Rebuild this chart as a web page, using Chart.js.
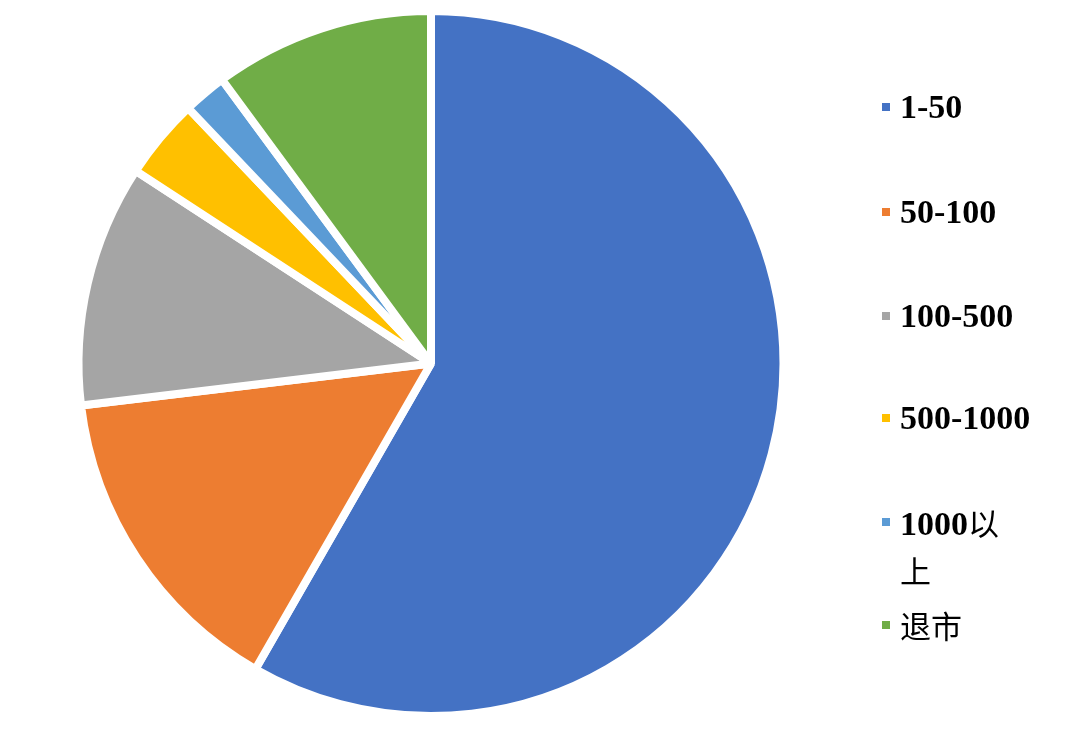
<!DOCTYPE html>
<html>
<head>
<meta charset="utf-8">
<script src="https://cdn.jsdelivr.net/npm/chart.js@4/dist/chart.umd.min.js"></script>
<style>
  html, body { margin: 0; padding: 0; background: #fff; }
  #wrap { position: relative; width: 1080px; height: 739px; }
  #legend { position: absolute; left: 880px; top: 0; font-family: "Liberation Serif", "Noto Sans CJK SC", serif; font-weight: bold; font-size: 34px; color: #000; }
  .item { position: absolute; left: 0; width: 160px; line-height: 46px; padding-left: 20px; }
  .item span.box { position: absolute; left: 2px; top: 19px; width: 8px; height: 8px; }
  .cjk { font-family: "Noto Sans CJK SC", sans-serif; font-weight: normal; font-size: 31px; }
</style>
</head>
<body>
<div id="wrap">
  <canvas id="pieChart" width="1080" height="739"></canvas>
  <div id="legend"></div>
</div>
<script>
const labels = ['1-50', '50-100', '100-500', '500-1000', '1000以上', '退市'];
const shares = [58.3, 14.8, 11.1, 3.7, 2.0, 10.1];
const colors = ['#4472C4', '#ED7D31', '#A5A5A5', '#FFC000', '#5B9BD5', '#70AD47'];
const legendTops = [84, 189, 293, 395, 499, 602];

const pieCtx = document.getElementById('pieChart').getContext('2d');

const pieChart = new Chart(pieCtx, {
  type: 'pie',
  data: {
    labels: labels,
    datasets: [{
      data: shares,
      backgroundColor: colors,
      borderColor: '#ffffff',
      borderWidth: 8,
    }],
  },
  options: {
    responsive: false,
    animation: false,
    layout: {
      padding: { left: 74, right: 292, top: 7, bottom: 19 }
    },
    plugins: {
      legend: { display: false },
      tooltip: { enabled: false }
    }
  },
});

// legend as html, so the long label can wrap like the original
const legendEl = document.getElementById('legend');
labels.forEach((lab, i) => {
  const div = document.createElement('div');
  div.className = 'item';
  div.style.top = legendTops[i] + 'px';
  const html = lab.replace(/([\u4e00-\u9fff]+)/g, '<span class="cjk">$1</span>');
  div.innerHTML = '<span class="box" style="background:' + colors[i] + '"></span>' +
    (lab === '1000以上' ? '1000<span class="cjk">以</span><br><span class="cjk">上</span>' : html);
  legendEl.appendChild(div);
});
</script>
</body>
</html>
